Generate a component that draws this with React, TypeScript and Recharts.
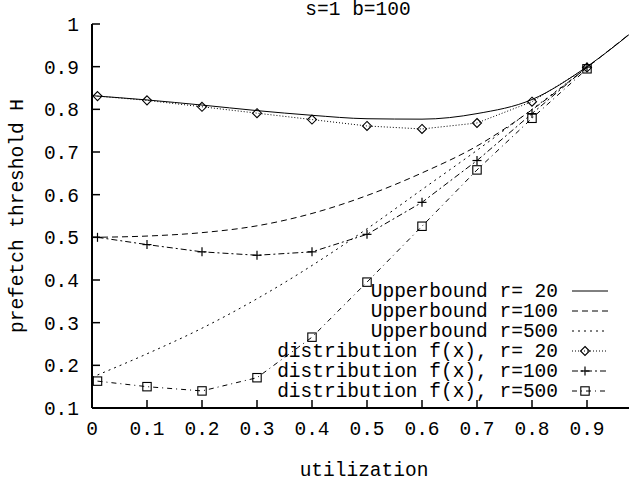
import React from 'react';
import { LineChart, Line, XAxis, YAxis, Legend } from 'recharts';

// x positions of the sampled distribution points and of the bound curves
const distX = [0.01, 0.1, 0.2, 0.3, 0.4, 0.5, 0.6, 0.7, 0.8, 0.9];
const boundX = [0, 0.1, 0.2, 0.3, 0.4, 0.5, 0.6, 0.7, 0.8, 0.9, 1.0];

// upper bounds
const boundR20 = [0.832, 0.822, 0.810, 0.797, 0.786, 0.778, 0.777, 0.790, 0.823, 0.900, 1.0];
const boundR100 = [0.500, 0.503, 0.511, 0.527, 0.556, 0.598, 0.651, 0.714, 0.799, 0.898, 1.0];
const boundR500 = [0.172, 0.227, 0.287, 0.356, 0.434, 0.520, 0.612, 0.704, 0.800, 0.898, 1.0];

// distribution f(x)
const distR20 = [0.831, 0.821, 0.806, 0.791, 0.776, 0.761, 0.754, 0.768, 0.818, 0.898];
const distR100 = [0.500, 0.483, 0.466, 0.458, 0.466, 0.507, 0.582, 0.680, 0.790, 0.899];
const distR500 = [0.163, 0.150, 0.140, 0.171, 0.266, 0.395, 0.526, 0.658, 0.779, 0.895];

const xTicks = [0, 0.1, 0.2, 0.3, 0.4, 0.5, 0.6, 0.7, 0.8, 0.9];
const yTicks = [0.1, 0.2, 0.3, 0.4, 0.5, 0.6, 0.7, 0.8, 0.9, 1];

const FONT = "'Liberation Mono', 'DejaVu Sans Mono', monospace";
const FONT_SIZE = 19.5;

const toPoints = (xs: number[], ys: number[]) => xs.map((x, i) => ({ x, y: ys[i] }));

type MarkerKind = 'diamond' | 'plus' | 'square' | null;

const Marker = ({ kind, cx, cy }: { kind: MarkerKind; cx: number; cy: number }) => {
  if (kind === 'diamond') {
    const r = 4.5;
    return (
      <polygon
        points={`${cx},${cy - r} ${cx + r},${cy} ${cx},${cy + r} ${cx - r},${cy}`}
        fill="none"
        stroke="#000"
        strokeWidth={1.1}
      />
    );
  }
  if (kind === 'plus') {
    const r = 4.5;
    return (
      <g stroke="#000" strokeWidth={1.2}>
        <line x1={cx - r} x2={cx + r} y1={cy} y2={cy} />
        <line x1={cx} x2={cx} y1={cy - r} y2={cy + r} />
      </g>
    );
  }
  if (kind === 'square') {
    const r = 4.2;
    return <rect x={cx - r} y={cy - r} width={2 * r} height={2 * r} fill="none" stroke="#000" strokeWidth={1.1} />;
  }
  return null;
};

const series = [
  { name: 'Upperbound r= 20', data: toPoints(boundX, boundR20), dash: undefined, marker: null as MarkerKind, curve: 'monotone' },
  { name: 'Upperbound r=100', data: toPoints(boundX, boundR100), dash: '6 4', marker: null as MarkerKind, curve: 'monotone' },
  { name: 'Upperbound r=500', data: toPoints(boundX, boundR500), dash: '2 4', marker: null as MarkerKind, curve: 'monotone' },
  { name: 'distribution f(x), r= 20', data: toPoints(distX, distR20), dash: '1 2', marker: 'diamond' as MarkerKind, curve: 'linear' },
  { name: 'distribution f(x), r=100', data: toPoints(distX, distR100), dash: '6 3 2 3', marker: 'plus' as MarkerKind, curve: 'linear' },
  { name: 'distribution f(x), r=500', data: toPoints(distX, distR500), dash: '5 4 1 4', marker: 'square' as MarkerKind, curve: 'linear' },
];

const textStyle = { fontFamily: FONT, fontSize: FONT_SIZE, fill: '#000', whiteSpace: 'pre' as const };

const renderLegend = () => (
  <svg width={660} height={486} style={{ position: 'absolute', left: 0, top: 0, pointerEvents: 'none' }}>
    {series.map((s, i) => {
      const y = 291 + i * 20;
      return (
        <g key={s.name}>
          <text x={558} y={y + 6} textAnchor="end" style={textStyle}>
            {s.name}
          </text>
          <line x1={572} x2={608} y1={y} y2={y} stroke="#000" strokeWidth={1} strokeDasharray={s.dash} />
          <Marker kind={s.marker} cx={585} cy={y} />
        </g>
      );
    })}
  </svg>
);

export default function App() {
  return (
    <div style={{ position: 'absolute', left: 0, top: 0, width: 629, height: 486, overflow: 'hidden', background: '#fff' }}>
      <div style={{ position: 'relative', width: 660, height: 486 }}>
        <LineChart width={660} height={486} margin={{ top: 24, right: 18, bottom: 0, left: 0 }}>
          <XAxis
            xAxisId="bottom"
            dataKey="x"
            type="number"
            domain={[0, 1]}
            ticks={xTicks}
            interval={0}
            height={78}
            tickSize={-8}
            tickMargin={21}
            axisLine={{ stroke: '#000', strokeWidth: 2 }}
            tickLine={{ stroke: '#000', strokeWidth: 1.5 }}
            tick={{ fill: '#000', fontSize: FONT_SIZE, fontFamily: FONT }}
            allowDataOverflow
          />
          <XAxis
            xAxisId="top"
            orientation="top"
            dataKey="x"
            type="number"
            domain={[0, 1]}
            ticks={xTicks}
            interval={0}
            height={0}
            tickSize={-8}
            axisLine={{ stroke: '#000', strokeWidth: 2 }}
            tickLine={{ stroke: '#000', strokeWidth: 1.5 }}
            tickFormatter={() => ''}
            allowDataOverflow
          />
          <YAxis
            yAxisId="left"
            type="number"
            domain={[0.1, 1]}
            ticks={yTicks}
            interval={0}
            width={92}
            tickSize={-8}
            tickMargin={21}
            axisLine={{ stroke: '#000', strokeWidth: 2 }}
            tickLine={{ stroke: '#000', strokeWidth: 1.5 }}
            tick={{ fill: '#000', fontSize: FONT_SIZE, fontFamily: FONT }}
            tickFormatter={(v: number) => String(v)}
            allowDataOverflow
          />
          <YAxis
            yAxisId="right"
            orientation="right"
            type="number"
            domain={[0.1, 1]}
            ticks={yTicks}
            interval={0}
            width={0}
            tickSize={-14}
            axisLine={{ stroke: '#000', strokeWidth: 2 }}
            tickLine={{ stroke: '#000', strokeWidth: 1.5 }}
            tickFormatter={() => ''}
            allowDataOverflow
          />
          {series.map((s) => (
            <Line
              key={s.name}
              xAxisId="bottom"
              yAxisId="left"
              data={s.data}
              dataKey="y"
              name={s.name}
              type={s.curve as 'monotone' | 'linear'}
              stroke="#000"
              strokeWidth={1}
              strokeDasharray={s.dash}
              isAnimationActive={false}
              dot={
                s.marker
                  ? (p: any) => <Marker key={`${s.name}-${p.index}`} kind={s.marker} cx={p.cx} cy={p.cy} />
                  : false
              }
              activeDot={false}
            />
          ))}
          <Legend
            layout="horizontal"
            verticalAlign="middle"
            align="center"
            content={renderLegend}
            wrapperStyle={{ left: 0, top: 0, width: 660, height: 486, pointerEvents: 'none' }}
          />
        </LineChart>
        <svg width={660} height={486} style={{ position: 'absolute', left: 0, top: 0, pointerEvents: 'none' }}>
          <text x={358} y={15} textAnchor="middle" style={textStyle}>
            s=1 b=100
          </text>
          <text x={364} y={476} textAnchor="middle" style={textStyle}>
            utilization
          </text>
          <text x={23} y={216} textAnchor="middle" transform="rotate(-90 23 216)" style={textStyle}>
            prefetch threshold H
          </text>
        </svg>
      </div>
    </div>
  );
}
